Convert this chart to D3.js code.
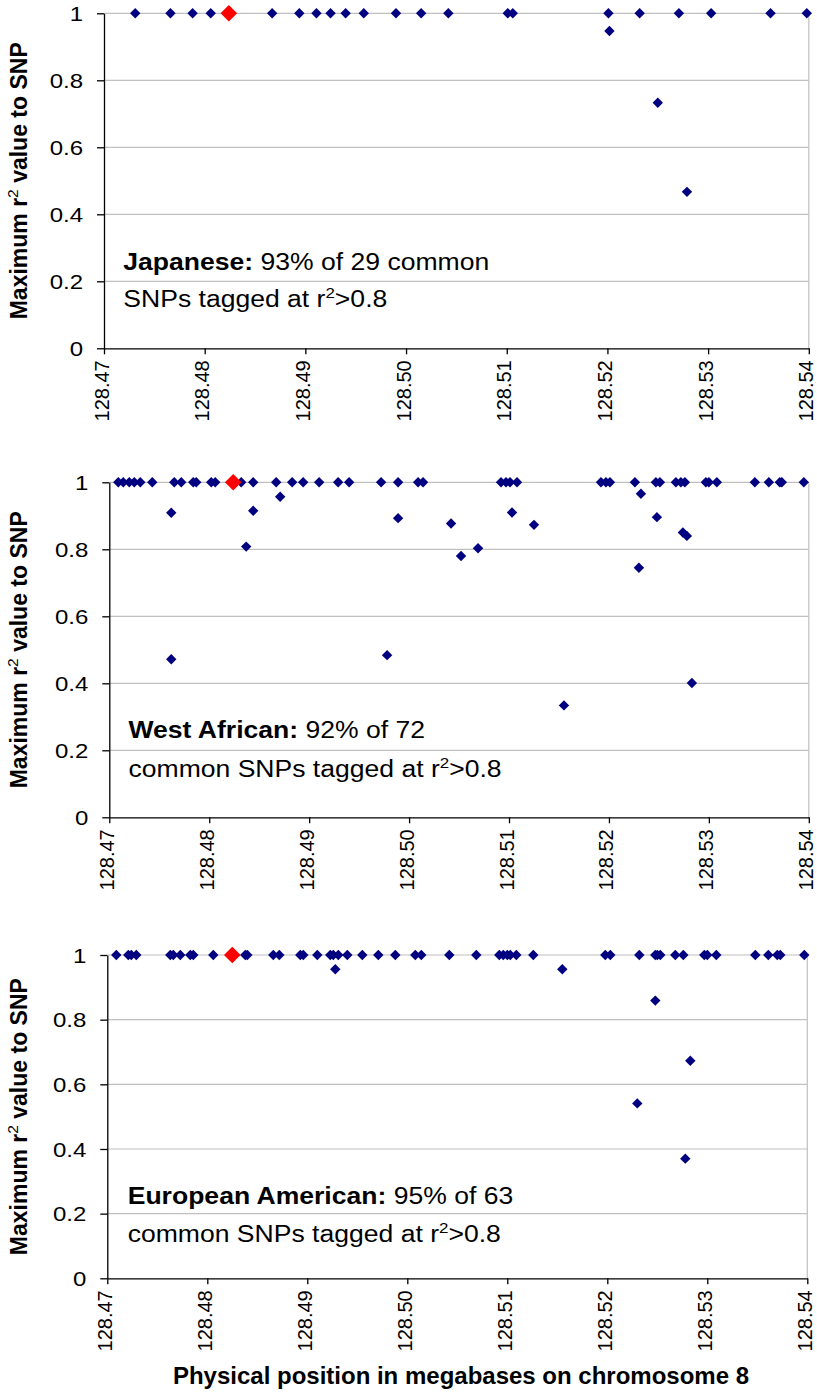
<!DOCTYPE html>
<html><head><meta charset="utf-8">
<script src="https://cdn.jsdelivr.net/npm/d3@7"></script>
<style>body{margin:0;background:#fff}svg{display:block}</style>
</head><body><svg id="c" width="817" height="1394"></svg>
<script>
// ---- data ----
const xTicks = [128.47, 128.48, 128.49, 128.50, 128.51, 128.52, 128.53, 128.54];
const yTicks = [0, 0.2, 0.4, 0.6, 0.8, 1];
const xDomain = [128.47, 128.54];

const japanesePos = [128.4731,128.4766,128.4788,128.4806,128.4867,128.4894,128.4911,128.4925,128.4940,128.4958,128.4990,128.5015,128.5042,128.5101,128.5106,128.5201,128.5202,128.5232,128.5250,128.5271,128.5279,128.5303,128.5362,128.5398];
const japaneseR2  = [1,1,1,1,1,1,1,1,1,1,1,1,1,1,1,1,0.947,1,0.733,1,0.467,1,1,1];
const japaneseSnp = [128.4824, 1];

const westAfricanPos = [128.4709,128.4714,128.4720,128.4725,128.4731,128.4743,128.4762,128.4762,128.4765,128.4772,128.4784,128.4787,128.4802,128.4806,128.4832,128.4837,128.4844,128.4844,128.4867,128.4871,128.4883,128.4894,128.4910,128.4929,128.4940,128.4972,128.4978,128.4989,128.4989,128.5009,128.5014,128.5042,128.5052,128.5069,128.5092,128.5097,128.5101,128.5103,128.5108,128.5125,128.5155,128.5192,128.5197,128.5201,128.5226,128.5230,128.5232,128.5247,128.5248,128.5251,128.5267,128.5272,128.5274,128.5276,128.5278,128.5283,128.5297,128.5300,128.5308,128.5346,128.5360,128.5371,128.5373,128.5395];
const westAfricanR2  = [1,1,1,1,1,1,0.909,0.472,1,1,1,1,1,1,1,0.808,1,0.915,1,0.957,1,1,1,1,1,1,0.484,1,0.893,1,1,0.877,0.780,0.803,1,1,1,0.910,1,0.873,0.334,1,1,1,1,0.745,0.966,1,0.896,1,1,1,0.850,1,0.840,0.401,1,1,1,1,1,1,1,1];
const westAfricanSnp = [128.4824, 1];

const europeanPos = [128.4709,128.4721,128.4724,128.4729,128.4763,128.4766,128.4773,128.4783,128.4786,128.4806,128.4838,128.4840,128.4866,128.4872,128.4893,128.4896,128.4910,128.4923,128.4926,128.4928,128.4931,128.4940,128.4955,128.4971,128.4988,128.5008,128.5014,128.5042,128.5069,128.5092,128.5096,128.5100,128.5103,128.5109,128.5126,128.5155,128.5198,128.5203,128.5230,128.5232,128.5248,128.5248,128.5250,128.5253,128.5268,128.5276,128.5278,128.5283,128.5297,128.5300,128.5309,128.5348,128.5361,128.5370,128.5373,128.5397];
const europeanR2  = [1,1,1,1,1,1,1,1,1,1,1,1,1,1,1,1,1,1,1,0.956,1,1,1,1,1,1,1,1,1,1,1,1,1,1,1,0.956,1,1,0.541,1,1,0.859,1,1,1,1,0.370,0.673,1,1,1,1,1,1,1,1];
const europeanSnp = [128.4825, 1];

const panelNames = ["Japanese:", "West African:", "European American:"];
const panelStats = [" 93% of 29 common", " 92% of 72", " 95% of 63"];
const panelLine2 = ["SNPs tagged at r", "common SNPs tagged at r", "common SNPs tagged at r"];
const yTitleParts = ["Maximum r", "2", " value to SNP"];
const xTitle = "Physical position in megabases on chromosome 8";

// ---- layout ----
const FONT = "'Liberation Sans', Arial, Helvetica, sans-serif";
const panels = [
  {pos: japanesePos, r2: japaneseR2, snp: japaneseSnp, left:104, right:808.8, top:13.3, bottom:348.3, ann:[123.3, 269.5, 306.5]},
  {pos: westAfricanPos, r2: westAfricanR2, snp: westAfricanSnp, left:109.3, right:808.8, top:482.3, bottom:817.3, ann:[128.5, 738, 776.5]},
  {pos: europeanPos, r2: europeanR2, snp: europeanSnp, left:107.3, right:807.3, top:955, bottom:1278.3, ann:[127.7, 1204.3, 1242.3]}
];

const svg = d3.select("#c").style("font-family", FONT);
svg.append("rect").attr("width",817).attr("height",1394).attr("fill","#fff");

const blueSym = d3.symbol().type(d3.symbolSquare).size(54);
const redSym = d3.symbol().type(d3.symbolSquare).size(138);

panels.forEach((p, i) => {
  const x = d3.scaleLinear().domain(xDomain).range([p.left, p.right]);
  const y = d3.scaleLinear().domain([0, 1]).range([p.bottom, p.top]);
  const g = svg.append("g");

  // gridlines
  g.append("g").selectAll("line").data(yTicks.filter(t => t > 0)).join("line")
    .attr("x1", p.left).attr("x2", p.right)
    .attr("y1", d => y(d)).attr("y2", d => y(d))
    .attr("stroke", "#c0c0c0").attr("stroke-width", 1.2);
  g.append("line").attr("x1", p.right).attr("x2", p.right)
    .attr("y1", p.top).attr("y2", p.bottom)
    .attr("stroke", "#c0c0c0").attr("stroke-width", 1.2);

  // y axis
  const ya = g.append("g").attr("transform", `translate(${p.left},0)`)
    .call(d3.axisLeft(y).tickValues(yTicks).tickSize(7).tickSizeOuter(0)
      .tickFormat(d => d === 0 || d === 1 ? String(d) : d.toFixed(1)));
  ya.select(".domain").attr("stroke", "#000").attr("stroke-width", 1.3);
  ya.selectAll(".tick line").attr("stroke", "#000").attr("stroke-width", 1.3);
  ya.selectAll(".tick text")
    .attr("x", 0).attr("dy", "0.36em")
    .attr("transform", "translate(-21,0) scale(1.2,1)")
    .attr("text-anchor", "end")
    .attr("font-family", FONT).attr("font-size", 20).attr("fill", "#000");

  // x axis
  const xa = g.append("g").attr("transform", `translate(0,${p.bottom})`)
    .call(d3.axisBottom(x).tickValues(xTicks).tickSize(6).tickSizeOuter(0)
      .tickFormat(d3.format(".2f")));
  xa.select(".domain").attr("stroke", "#000").attr("stroke-width", 1.3);
  xa.selectAll(".tick line").attr("stroke", "#000").attr("stroke-width", 1.3);
  xa.selectAll(".tick text")
    .attr("transform", "rotate(-90)")
    .attr("x", -12).attr("y", 0).attr("dy", "0.2em")
    .attr("text-anchor", "end")
    .attr("font-family", FONT).attr("font-size", 20).attr("fill", "#000");

  // points
  const pts = p.pos.map((v, k) => ({x: v, y: p.r2[k]}));
  g.append("g").selectAll("path").data(pts).join("path")
    .attr("d", blueSym)
    .attr("transform", d => `translate(${x(d.x)},${y(d.y)}) rotate(45)`)
    .attr("fill", "#000080");
  g.append("path").attr("d", redSym)
    .attr("transform", `translate(${x(p.snp[0])},${y(p.snp[1])}) rotate(45)`)
    .attr("fill", "#ff0000");

  // annotation
  const a1 = g.append("g").attr("transform", `translate(${p.ann[0]},${p.ann[1]}) scale(1.13,1)`)
    .append("text").attr("font-size", 23.5).attr("fill", "#000");
  a1.append("tspan").attr("font-weight", "bold").text(panelNames[i]);
  a1.append("tspan").text(panelStats[i]);
  const a2 = g.append("g").attr("transform", `translate(${p.ann[0]},${p.ann[2]}) scale(1.13,1)`)
    .append("text").attr("font-size", 23.5).attr("fill", "#000");
  a2.append("tspan").text(panelLine2[i]);
  a2.append("tspan").attr("font-size", 15).attr("dy", -9).text("2");
  a2.append("tspan").attr("font-size", 23.5).attr("dy", 9).text(">0.8");

  // y title
  const cy = (p.top + p.bottom) / 2;
  const yt = g.append("text")
    .attr("transform", `translate(27,${cy}) rotate(-90)`)
    .attr("text-anchor", "middle").attr("font-weight", "bold")
    .attr("font-size", 23).attr("fill", "#000");
  yt.append("tspan").text(yTitleParts[0]);
  yt.append("tspan").attr("font-size", 15.5).attr("font-weight", "normal").attr("dy", -9).text(yTitleParts[1]);
  yt.append("tspan").attr("font-size", 23).attr("dy", 9).text(yTitleParts[2]);
});

svg.append("text").attr("x", 461).attr("y", 1383.5)
  .attr("text-anchor", "middle").attr("font-weight", "bold")
  .attr("font-size", 24).attr("fill", "#000").text(xTitle);
</script>
</body></html>
